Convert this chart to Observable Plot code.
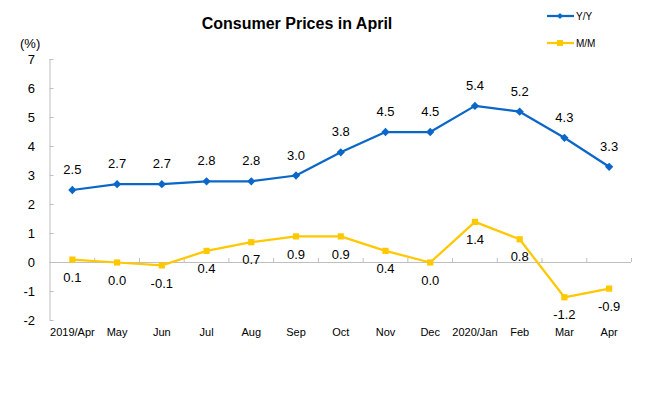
<!DOCTYPE html>
<html><head><meta charset="utf-8">
<script src="https://cdn.jsdelivr.net/npm/d3@7"></script>
<script src="https://cdn.jsdelivr.net/npm/@observablehq/plot@0.6"></script>
<style>
body{margin:0;background:#fff;font-family:"Liberation Sans",Arial,sans-serif}
#wrap{position:relative;width:662px;height:398px;overflow:hidden}
#title{position:absolute;left:0;width:594px;top:15px;text-align:center;font-weight:bold;font-size:16px;color:#000}
#unit{position:absolute;left:20px;top:36px;font-size:13px;color:#000}
#legend{position:absolute;left:546px;top:6px;font-size:10px;color:#000}
#wrap svg{position:absolute;left:0;top:0}
</style></head><body>
<div id="wrap">
<div id="title">Consumer Prices in April</div>
<div id="unit">(%)</div>
<div id="legend"></div>
</div>
<script>
const months = ["2019/Apr","May","Jun","Jul","Aug","Sep","Oct","Nov","Dec","2020/Jan","Feb","Mar","Apr"];
const yoy = [2.5,2.7,2.7,2.8,2.8,3.0,3.8,4.5,4.5,5.4,5.2,4.3,3.3];
const mom = [0.1,0.0,-0.1,0.4,0.7,0.9,0.9,0.4,0.0,1.4,0.8,-1.2,-0.9];
const yTicks = [-2,-1,0,1,2,3,4,5,6,7];
const seriesNames = ["Y/Y","M/M"];
const colors = ["#0a67c8","#ffc800"];

const idx = months.map((m,i)=>i);
const boundaries = d3.range(0.5, 12.6, 1);
const gray = "#bfbfbf";

const chart = Plot.plot({
  width: 662, height: 398,
  marginLeft: 49.5, marginRight: 31, marginTop: 59, marginBottom: 78,
  style: {fontFamily: "'Liberation Sans', Arial, sans-serif", fontSize: "13px", color: "#000", background: "transparent"},
  x: {type: "linear", domain: [-0.5, 12.5]},
  y: {domain: [-2, 7]},
  marks: [
    Plot.ruleY(yTicks, {x1: -0.5, x2: -0.41, stroke: gray}),
    Plot.ruleX([-0.5], {y1: -2, y2: 7, stroke: gray}),
    Plot.ruleY([0], {x1: -0.5, x2: 12.5, stroke: gray}),
    Plot.ruleX(boundaries, {y1: 0, y2: 0.14, stroke: gray}),
    Plot.axisY({ticks: yTicks, tickSize: 0, tickPadding: 15, tickFormat: d => String(d), label: null, fontSize: 13}),
    Plot.axisX({ticks: idx, tickSize: 0, tickPadding: 8, tickFormat: i => months[i], label: null, fontSize: 11}),
    Plot.line(yoy, {x: (d,i) => i, y: d => d, stroke: colors[0], strokeWidth: 2.25}),
    Plot.dot(yoy, {x: (d,i) => i, y: d => d, symbol: "square", rotate: 45, r: 3.3, fill: colors[0]}),
    Plot.line(mom, {x: (d,i) => i, y: d => d, stroke: colors[1], strokeWidth: 2.25}),
    Plot.dot(mom, {x: (d,i) => i, y: d => d, symbol: "square", r: 3.5, fill: colors[1]}),
    Plot.text(yoy, {x: (d,i) => i, y: d => d, text: d => d.toFixed(1), dy: -20, fontSize: 13, fill: "#000"}),
    Plot.text(mom, {x: (d,i) => i, y: d => d, text: d => d.toFixed(1), dy: 18, fontSize: 13, fill: "#000"})
  ]
});
document.getElementById("wrap").prepend(chart);

// legend
const leg = d3.select("#legend").append("svg").attr("width", 60).attr("height", 50);
seriesNames.forEach((name, k) => {
  const y = 10 + k * 27;
  leg.append("line").attr("x1", 1).attr("x2", 28).attr("y1", y).attr("y2", y)
    .attr("stroke", colors[k]).attr("stroke-width", 2.25);
  if (k === 0) {
    leg.append("path").attr("d", `M14,${y-3}L17,${y}L14,${y+3}L11,${y}Z`).attr("fill", colors[k]);
  } else {
    leg.append("rect").attr("x", 11).attr("y", y-3).attr("width", 6).attr("height", 6).attr("fill", colors[k]);
  }
  leg.append("text").attr("x", 30).attr("y", y + 4).attr("font-size", 10)
    .attr("font-family", "'Liberation Sans', Arial, sans-serif").text(name);
});
</script>
</body></html>
